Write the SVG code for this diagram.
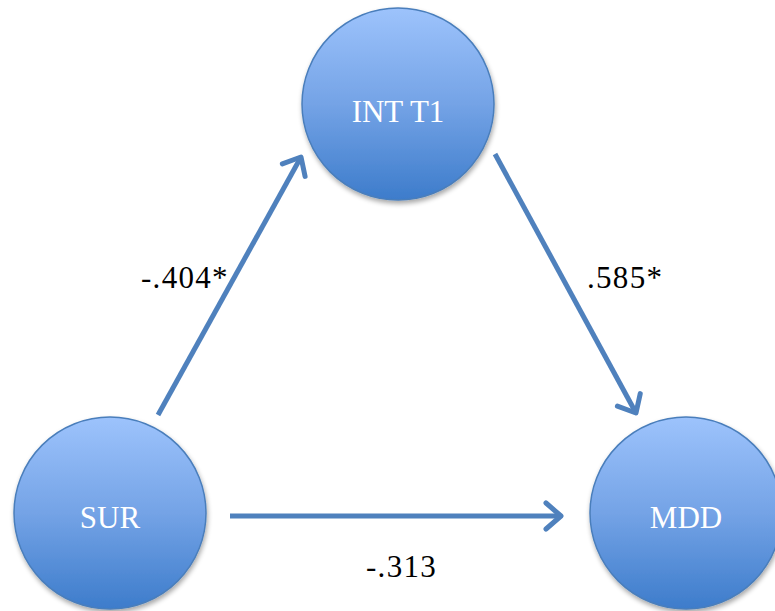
<svg xmlns="http://www.w3.org/2000/svg" width="775" height="611" viewBox="0 0 775 611">
  <defs>
    <linearGradient id="g" x1="0" y1="0" x2="0" y2="1">
      <stop offset="0" stop-color="#9dc3fc"/>
      <stop offset="0.5" stop-color="#74a3e6"/>
      <stop offset="1" stop-color="#3d7ccb"/>
    </linearGradient>
    <filter id="sh" x="-20%" y="-20%" width="140%" height="140%">
      <feGaussianBlur in="SourceAlpha" stdDeviation="2.5"/>
      <feOffset dx="1" dy="3" result="b"/>
      <feComponentTransfer><feFuncA type="linear" slope="0.35"/></feComponentTransfer>
      <feMerge><feMergeNode/><feMergeNode in="SourceGraphic"/></feMerge>
    </filter>
    <marker id="ah" markerUnits="userSpaceOnUse" markerWidth="40" markerHeight="40" refX="0" refY="0" viewBox="-20 -20 40 40" orient="auto" overflow="visible">
      <path d="M-15,-13 L0,0 L-15,13" fill="none" stroke="#4f81bd" stroke-width="5" stroke-linecap="round" stroke-linejoin="round"/>
    </marker>
  </defs>
  <style>
    .node circle { fill: url(#g); stroke: #4a7ebb; stroke-width: 1.5; filter: url(#sh); }
    .node text { fill: #ffffff; font-family: "Liberation Serif", "DejaVu Serif", serif; font-size: 31px; text-anchor: middle; }
    .conn line { stroke: #4f81bd; stroke-width: 5; stroke-linecap: butt; marker-end: url(#ah); }
    .lbl { fill: #000000; font-family: "Liberation Serif", "DejaVu Serif", serif; font-size: 31px; letter-spacing: 1.3px; }
  </style>
  <g class="conn" id="connectors">
    <line x1="158" y1="415" x2="301" y2="157"/>
    <line x1="495" y1="154" x2="636" y2="413"/>
    <line x1="230" y1="516" x2="561" y2="516"/>
  </g>
  <g id="labels">
    <text class="lbl" x="141" y="288">-.404*</text>
    <text class="lbl" x="587" y="288">.585*</text>
    <text class="lbl" x="366" y="577">-.313</text>
  </g>
  <g class="node" id="node-int">
    <circle cx="398" cy="104" r="96"/>
    <text x="398" y="122">INT T1</text>
  </g>
  <g class="node" id="node-sur">
    <circle cx="110" cy="513" r="96"/>
    <text x="110" y="528">SUR</text>
  </g>
  <g class="node" id="node-mdd">
    <circle cx="686" cy="513" r="96"/>
    <text x="686" y="528">MDD</text>
  </g>
</svg>
